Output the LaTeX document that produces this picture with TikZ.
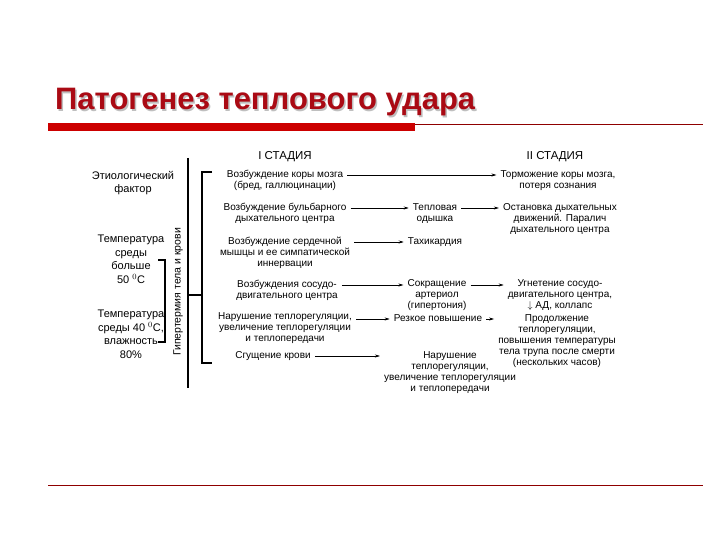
\documentclass[tikz,border=0pt]{standalone}
\usepackage{fontspec}
\setmainfont{Liberation Sans}
\usetikzlibrary{calc,arrows.meta}
\definecolor{ttl}{RGB}{170,10,20}
\definecolor{bar}{RGB}{204,0,0}
\tikzset{
 t/.style={font=\fontsize{10}{11}\selectfont, align=center, inner sep=0pt, anchor=north},
 l/.style={font=\fontsize{11}{13.5}\selectfont, align=center, inner sep=0pt, anchor=north},
 ar/.style={-{Stealth[length=5pt,width=3pt]}, line width=0.6pt},
 br/.style={line width=1.5pt},
}
\begin{document}
\begin{tikzpicture}[x=1pt,y=-1pt]
\useasboundingbox (0,0) rectangle (720,540);
\fill[white] (0,0) rectangle (720,540);
\node[anchor=base west, font=\fontsize{31}{31}\bfseries, text=gray!50, inner sep=0] (ttlsh) at (56.5,111.5) {Патогенез теплового удара};
\node[anchor=base west, font=\fontsize{31}{31}\bfseries, text=ttl, inner sep=0] (ttl) at (55,110) {Патогенез теплового удара};
\fill[bar] (48,123) rectangle (415,131);
\draw[bar!70!black, line width=0.6pt] (415,124) -- (703,124);
\draw[bar!70!black, line width=0.6pt] (48,485) -- (703,485);
% stage headings
\node[font=\fontsize{11.5}{13}\selectfont] (s1) at (285,157) {I СТАДИЯ};
\node[font=\fontsize{11.5}{13}\selectfont] (s2) at (555,157) {II СТАДИЯ};
% left column
\node[l] (e) at (133,171) {Этиологический\\фактор};
\node[l] (t1) at (131,235) {Температура\\среды\\больше\\50 $^{0}$C};
\node[l] (t2) at (131,310) {Температура\\среды 40 $^{0}$C,\\влажность\\80\%};
\draw[br] (158,260) -- (165,260) -- (165,342) -- (158,342);
\node[rotate=90, font=\fontsize{10.5}{12}\selectfont, inner sep=0] (g) at (178,292) {Гипертермия тела и крови};
\coordinate (vt) at (188,158);
\coordinate (vb) at (188,388);
\draw[line width=2pt] (vt) -- (vb);
\coordinate (bt) at (212,172);
\coordinate (bb) at (212,363);
\draw[br] (bt) -- (202,172) -- (202,363) -- (bb);
\draw[line width=2pt] (188,295) -- (202,295);
% stage I
\node[t] (a1) at (285,170) {Возбуждение коры мозга\\(бред, галлюцинации)};
\node[t] (a2) at (285,203) {Возбуждение бульбарного\\дыхательного центра};
\node[t] (a3) at (285,237) {Возбуждение сердечной\\мышцы и ее симпатической\\иннервации};
\node[t] (a4) at (287,280) {Возбуждения сосудо-\\двигательного центра};
\node[t] (a5) at (285,312) {Нарушение теплорегуляции,\\увеличение теплорегуляции\\и теплопередачи};
\node[t] (a6) at (273,351) {Сгущение крови};
% middle
\node[t] (b2) at (435,203) {Тепловая\\одышка};
\node[t] (b3) at (435,237) {Тахикардия};
\node[t] (b4) at (437,279) {Сокращение\\артериол\\(гипертония)};
\node[t] (b5) at (438,314) {Резкое повышение};
\node[t] (b6) at (450,351) {Нарушение\\теплорегуляции,\\увеличение теплорегуляции\\и теплопередачи};
% stage II
\node[t] (c1) at (558,170) {Торможение коры мозга,\\потеря сознания};
\node[t] (c2) at (560,203) {Остановка дыхательных\\движений. Паралич\\дыхательного центра};
\node[t] (c4) at (560,279) {Угнетение сосудо-\\двигательного центра,\\$\downarrow$ АД, коллапс};
\node[t] (c5) at (557,314) {Продолжение\\теплорегуляции,\\повышения температуры\\тела трупа после смерти\\(нескольких часов)};
% arrows
\draw[ar] ($(a1.north east)+(4,5)$) -- ($(c1.north west)+(-4,5)$);
\draw[ar] ($(a2.north east)+(4,5)$) -- ($(b2.north west)+(-4,5)$);
\draw[ar] ($(b2.north east)+(4,5)$) -- ($(c2.north west)+(-4,5)$);
\draw[ar] ($(a3.north east)+(4,5)$) -- ($(b3.north west)+(-4,5)$);
\draw[ar] ($(a4.north east)+(4,5)$) -- ($(b4.north west)+(-4,6)$);
\draw[ar] ($(b4.north east)+(4,6)$) -- ($(c4.north west)+(-4,6)$);
\draw[ar] ($(a5.north east)+(4,7)$) -- ($(b5.north west)+(-4,5)$);
\draw[ar] ($(b5.north east)+(4,5)$) -- ($(c5.north west)+(-4,5)$);
\draw[ar] ($(a6.north east)+(4,5)$) -- ($(b6.north west)+(-4,5)$);
\end{tikzpicture}
\end{document}
